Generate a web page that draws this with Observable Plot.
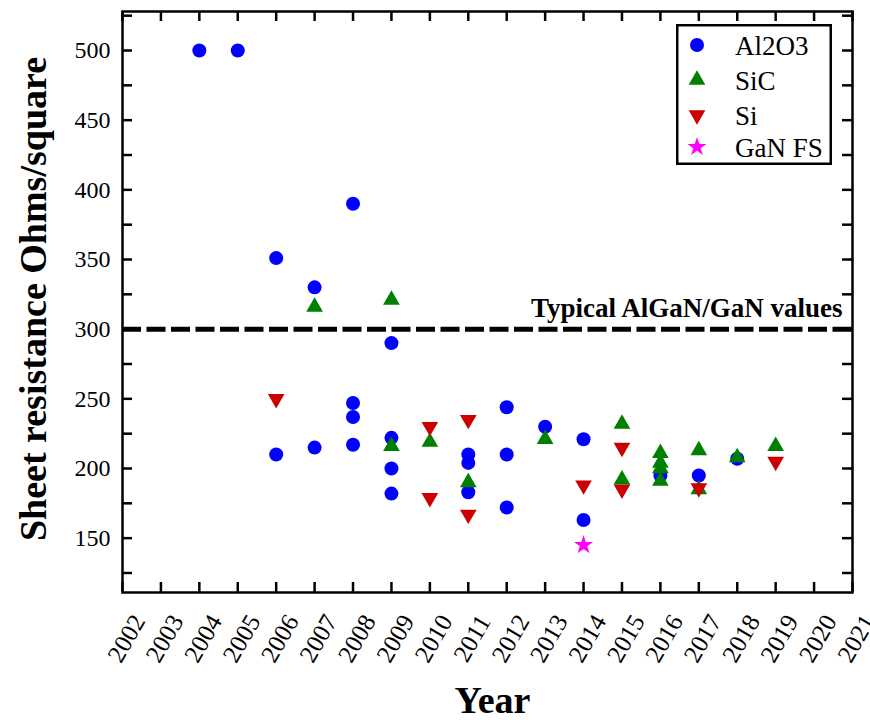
<!DOCTYPE html>
<html>
<head>
<meta charset="utf-8">
<script src="https://cdn.jsdelivr.net/npm/d3@7"></script>
<script src="https://cdn.jsdelivr.net/npm/@observablehq/plot@0.6"></script>
<style>
  body { margin: 0; background: #fff; }
  #wrap { position: relative; width: 870px; height: 720px; }
  #legend { position: absolute; left: 676px; top: 24px; }
</style>
</head>
<body>
<div id="wrap"></div>
<script>
// ---- Data ----
const al2o3Years  = [2004, 2005, 2006, 2006, 2007, 2007, 2008, 2008, 2008, 2008, 2009, 2009, 2009, 2009, 2011, 2011, 2011, 2012, 2012, 2012, 2013, 2014, 2014, 2016, 2017, 2018];
const al2o3Values = [500,  500,  351,  210,  330,  215,  390,  247,  237,  217,  290,  222,  200,  182,  210,  204,  183,  244,  210,  172,  230,  221,  163,  195,  195,  207];

const sicYears  = [2007, 2009, 2009, 2010, 2011, 2013, 2015, 2015, 2016, 2016, 2016, 2016, 2017, 2017, 2018, 2019];
const sicValues = [316,  321,  216,  219,  190,  221,  232,  192,  211,  204,  200,  191,  213,  185,  208,  216];

const siYears  = [2006, 2010, 2010, 2011, 2011, 2014, 2015, 2015, 2017, 2019];
const siValues = [250,  230,  179,  235,  167,  188,  215,  185,  186,  205];

const ganYears  = [2014];
const ganValues = [145];

const seriesNames  = ["Al2O3", "SiC", "Si", "GaN FS"];
const seriesColors = ["#0000FF", "#008000", "#CC0000", "#FF00FF"];

const threshold = 300;
const thresholdLabel = "Typical AlGaN/GaN values";

const yearTicks   = [2002, 2003, 2004, 2005, 2006, 2007, 2008, 2009, 2010, 2011, 2012, 2013, 2014, 2015, 2016, 2017, 2018, 2019, 2020, 2021];
const yLabelTicks = [150, 200, 250, 300, 350, 400, 450, 500];
const yMinorTicks = [125, 150, 175, 200, 225, 250, 275, 300, 325, 350, 375, 400, 425, 450, 475, 500, 525];

const xTitle = "Year";
const yTitle = "Sheet resistance Ohms/square";

// ---- Build tables ----
const rows = (years, values) => years.map((y, i) => ({year: y, value: values[i]}));
const al2o3 = rows(al2o3Years, al2o3Values);
const sic   = rows(sicYears, sicValues);
const si    = rows(siYears, siValues);
const gan   = rows(ganYears, ganValues);

// downward triangle symbol (mirror of d3.symbolTriangle)
const triangleDown = {
  draw(context, size) {
    const s = Math.sqrt(size / (Math.sqrt(3) * 3));
    context.moveTo(0, 2 * s);
    context.lineTo(-Math.sqrt(3) * s, -s);
    context.lineTo(Math.sqrt(3) * s, -s);
    context.closePath();
  }
};
const symbols = [d3.symbolCircle, d3.symbolTriangle, triangleDown, d3.symbolStar];
const radii   = [7, 6.2, 6.2, 6];

const W = 870, H = 720;
const mL = 122, mR = 18, mT = 11, mB = 128;
const innerW = W - mL - mR, innerH = H - mT - mB;
const tickLen = 10;
const serif = "'Liberation Serif', 'Times New Roman', serif";

const chart = Plot.plot({
  width: W,
  height: H,
  marginLeft: mL,
  marginRight: mR,
  marginTop: mT,
  marginBottom: mB,
  style: {fontFamily: serif, color: "black", background: "white"},
  x: {domain: [2002, 2021], axis: null},
  y: {domain: [111, 528]},
  marks: [
    // threshold line + annotation
    Plot.ruleY([threshold], {stroke: "black", strokeWidth: 5, strokeDasharray: "19,5.5"}),
    Plot.text([thresholdLabel], {
      y: () => threshold, frameAnchor: "right", text: d => d,
      textAnchor: "end", lineAnchor: "bottom", dx: -10, dy: -12,
      fontSize: 27, fontWeight: "bold", fill: "black"
    }),
    // data
    Plot.dot(al2o3, {x: "year", y: "value", r: radii[0], symbol: symbols[0], fill: seriesColors[0], stroke: "none"}),
    Plot.dot(sic,   {x: "year", y: "value", r: radii[1], symbol: symbols[1], fill: seriesColors[1], stroke: "none"}),
    Plot.dot(si,    {x: "year", y: "value", r: radii[2], symbol: symbols[2], fill: seriesColors[2], stroke: "none"}),
    Plot.dot(gan,   {x: "year", y: "value", r: radii[3], symbol: symbols[3], fill: seriesColors[3], stroke: "none"}),
    // inward ticks on all four sides
    Plot.tickY(yMinorTicks, {y: d => d, insetRight: innerW - tickLen, stroke: "black", strokeWidth: 2.5}),
    Plot.tickY(yMinorTicks, {y: d => d, insetLeft: innerW - tickLen, stroke: "black", strokeWidth: 2.5}),
    Plot.tickX(yearTicks, {x: d => d, insetTop: innerH - tickLen, stroke: "black", strokeWidth: 2.5}),
    Plot.tickX(yearTicks, {x: d => d, insetBottom: innerH - tickLen, stroke: "black", strokeWidth: 2.5}),
    // y tick labels
    Plot.axisY(yLabelTicks, {tickSize: 0, tickPadding: 12, fontSize: 24, label: null, tickFormat: d => String(d)}),
    // x tick labels (rotated)
    Plot.text(yearTicks, {
      x: d => d, text: d => String(d), frameAnchor: "bottom",
      dy: 46, dx: 4, rotate: -60, textAnchor: "middle", lineAnchor: "middle",
      fontSize: 25, fill: "black"
    }),
    // axis titles
    Plot.text([xTitle], {
      text: d => d, frameAnchor: "bottom", dy: 120, dx: 5,
      lineAnchor: "bottom", fontSize: 38, fontWeight: "bold", fill: "black"
    }),
    Plot.text([yTitle], {
      text: d => d, frameAnchor: "left", dx: -77, dy: -3, rotate: -90,
      textAnchor: "middle", lineAnchor: "bottom", fontSize: 38, fontWeight: "bold", fill: "black"
    }),
    Plot.frame({stroke: "black", strokeWidth: 2.5})
  ]
});

const wrap = document.getElementById("wrap");
wrap.appendChild(chart);

// ---- Legend (overlay box) ----
const lgW = 156, lgH = 141, rowH = 35;
const legend = d3.create("svg")
  .attr("id", "legend")
  .attr("width", lgW)
  .attr("height", lgH)
  .style("font-family", serif);
legend.append("rect")
  .attr("x", 1.25).attr("y", 1.25)
  .attr("width", lgW - 2.5).attr("height", lgH - 2.5)
  .attr("fill", "white").attr("stroke", "black").attr("stroke-width", 2.5);
const entries = legend.selectAll("g.entry")
  .data(seriesNames)
  .join("g")
  .attr("class", "entry")
  .attr("transform", (d, i) => `translate(21,${21 + i * rowH - (i === 3 ? 3 : 0)})`);
entries.append("path")
  .attr("d", (d, i) => d3.symbol(symbols[i], radii[i] * radii[i] * Math.PI)())
  .attr("fill", (d, i) => seriesColors[i]);
entries.append("text")
  .attr("x", 38).attr("y", 10)
  .attr("font-size", 27)
  .attr("fill", "black")
  .text(d => d);
wrap.appendChild(legend.node());
</script>
</body>
</html>
